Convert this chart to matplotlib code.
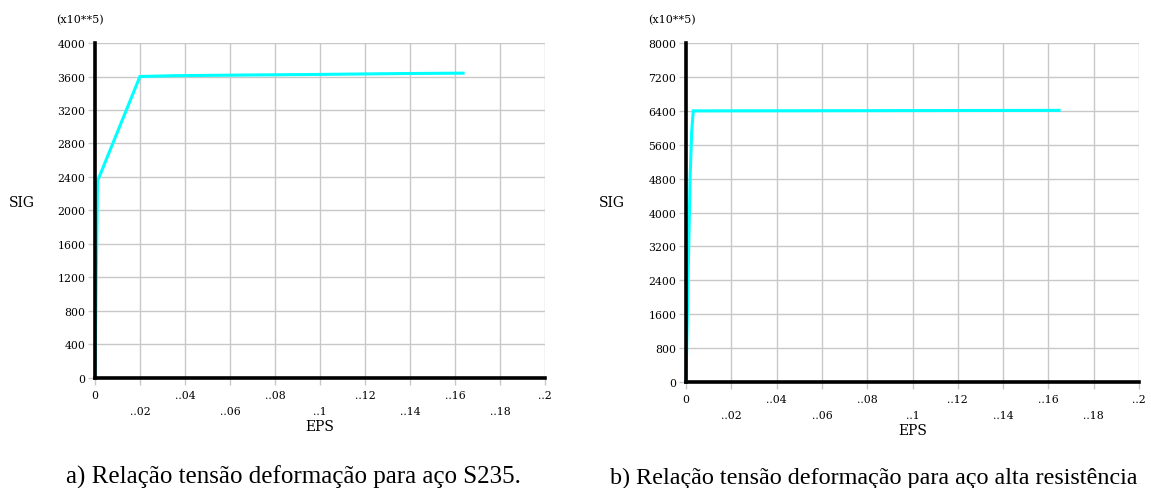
import matplotlib.pyplot as plt
import numpy as np

# S235 steel (stress in units of 1e5)
eps_s235 = [0, 0.00112, 0.02, 0.036, 0.068, 0.1, 0.135, 0.1636]
sig_s235 = [0, 2350, 3600, 3610, 3618, 3625, 3635, 3640]

# high strength steel
eps_high = [0, 0.0018, 0.0025, 0.0032, 0.077, 0.1647]
sig_high = [0, 4800, 5900, 6400, 6405, 6412]

x_ticks = [0, 0.02, 0.04, 0.06, 0.08, 0.1, 0.12, 0.14, 0.16, 0.18, 0.2]
x_labels = ["0", "..02", "..04", "..06", "..08", "..1", "..12", "..14", "..16", "..18", "..2"]
y_ticks_a = list(range(0, 4001, 400))
y_ticks_b = list(range(0, 8001, 800))

captions = ["a) Relação tensão deformação para aço S235.",
            "b) Relação tensão deformação para aço alta resistência"]

TICK_FONT = dict(family="DejaVu Serif", size=7.8)

fig = plt.figure(figsize=(11.51, 4.89), dpi=100)


def draw_panel(rect, eps, sig, yticks, ymax, sig_x, exp_x):
    ax = fig.add_axes(rect)
    ax.plot(eps, sig, color="#00ffff", linewidth=2.2, solid_joinstyle="miter", clip_on=False, zorder=3)
    ax.set_xlim(0, 0.2)
    ax.set_ylim(0, ymax)
    ax.set_xticks(x_ticks)
    # alternate rows of x labels
    ax.set_xticklabels([lab if i % 2 == 0 else "\n" + lab for i, lab in enumerate(x_labels)],
                       linespacing=1.75, **TICK_FONT)
    ax.set_yticks(yticks)
    ax.set_yticklabels([str(v) for v in yticks], **TICK_FONT)
    ax.grid(True, color="#c8c8c8", linewidth=1.0)
    ax.tick_params(axis="both", color="#c8c8c8", length=5, width=1.0, pad=4)
    ax.tick_params(axis="y", pad=2)
    for s in ["top", "right"]:
        ax.spines[s].set_visible(False)
    for s in ["left", "bottom"]:
        ax.spines[s].set_linewidth(2.6)
        ax.spines[s].set_color("black")
        ax.spines[s].set_zorder(4)
    ax.set_xlabel("EPS", family="DejaVu Serif", size=10, labelpad=2)
    fig.text(sig_x, 0.585, "SIG", family="DejaVu Serif", size=10, ha="center", va="center")
    fig.text(exp_x, 0.958, "(x10**5)", family="DejaVu Serif", size=8, ha="left", va="center")
    return ax


ax1 = draw_panel([0.0825, 0.225, 0.391, 0.685], eps_s235, sig_s235, y_ticks_a, 4000, 0.019, 0.049)
ax2 = draw_panel([0.596, 0.2168, 0.3936, 0.693], eps_high, sig_high, y_ticks_b, 8000, 0.532, 0.563)

fig.text(0.057, 0.011, captions[0], family="Liberation Serif", size=18, ha="left", va="baseline")
fig.text(0.530, 0.011, captions[1], family="Liberation Serif", size=17.4, ha="left", va="baseline")

plt.savefig("out.png", dpi=100)
plt.close()
